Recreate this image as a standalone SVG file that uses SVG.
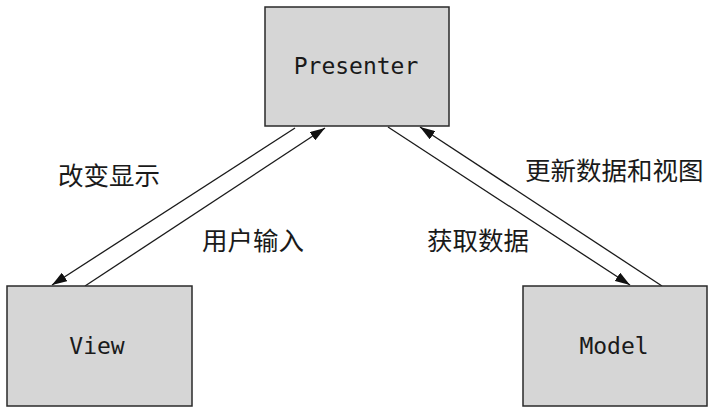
<svg xmlns="http://www.w3.org/2000/svg" width="719" height="418" viewBox="0 0 719 418">
<style>
.box{fill:#d6d6d6;stroke:#2a2a2a;stroke-width:1.5}
.lbl{font-family:"DejaVu Sans Mono","Liberation Mono",monospace;font-size:23px;fill:#1a1a1a;text-anchor:middle}
.cn{font-family:"Noto Sans CJK SC","Noto Sans",sans-serif;font-size:25.5px;fill:#1a1a1a}
.ln{stroke:#1a1a1a;stroke-width:1.3;fill:none;marker-end:url(#ah)}
</style>
<defs>
<marker id="ah" viewBox="0 0 15 10" refX="15" refY="5" markerWidth="15" markerHeight="10" markerUnits="userSpaceOnUse" orient="auto">
<path d="M0,0 L15,5 L0,10 Z" fill="#111"/>
</marker>
</defs>
<rect width="719" height="418" fill="#ffffff"/>
<g id="connectors">
<line class="ln" x1="295" y1="128" x2="52" y2="285"/>
<line class="ln" x1="85" y1="286" x2="325" y2="128"/>
<line class="ln" x1="388" y1="127" x2="630" y2="285"/>
<line class="ln" x1="662" y1="286" x2="420" y2="127"/>
</g>
<g id="presenter">
<rect class="box" x="265" y="7" width="184" height="119"/>
<text class="lbl" x="356" y="74">Presenter</text>
</g>
<g id="view">
<rect class="box" x="7" y="286" width="185" height="120"/>
<text class="lbl" x="97" y="354">View</text>
</g>
<g id="model">
<rect class="box" x="523" y="286" width="184" height="120"/>
<text class="lbl" x="614" y="354">Model</text>
</g>
<g id="labels">
<text class="cn" x="58" y="185">改变显示</text>
<text class="cn" x="202" y="250">用户输入</text>
<text class="cn" x="525" y="180">更新数据和视图</text>
<text class="cn" x="427" y="250">获取数据</text>
</g>
</svg>
